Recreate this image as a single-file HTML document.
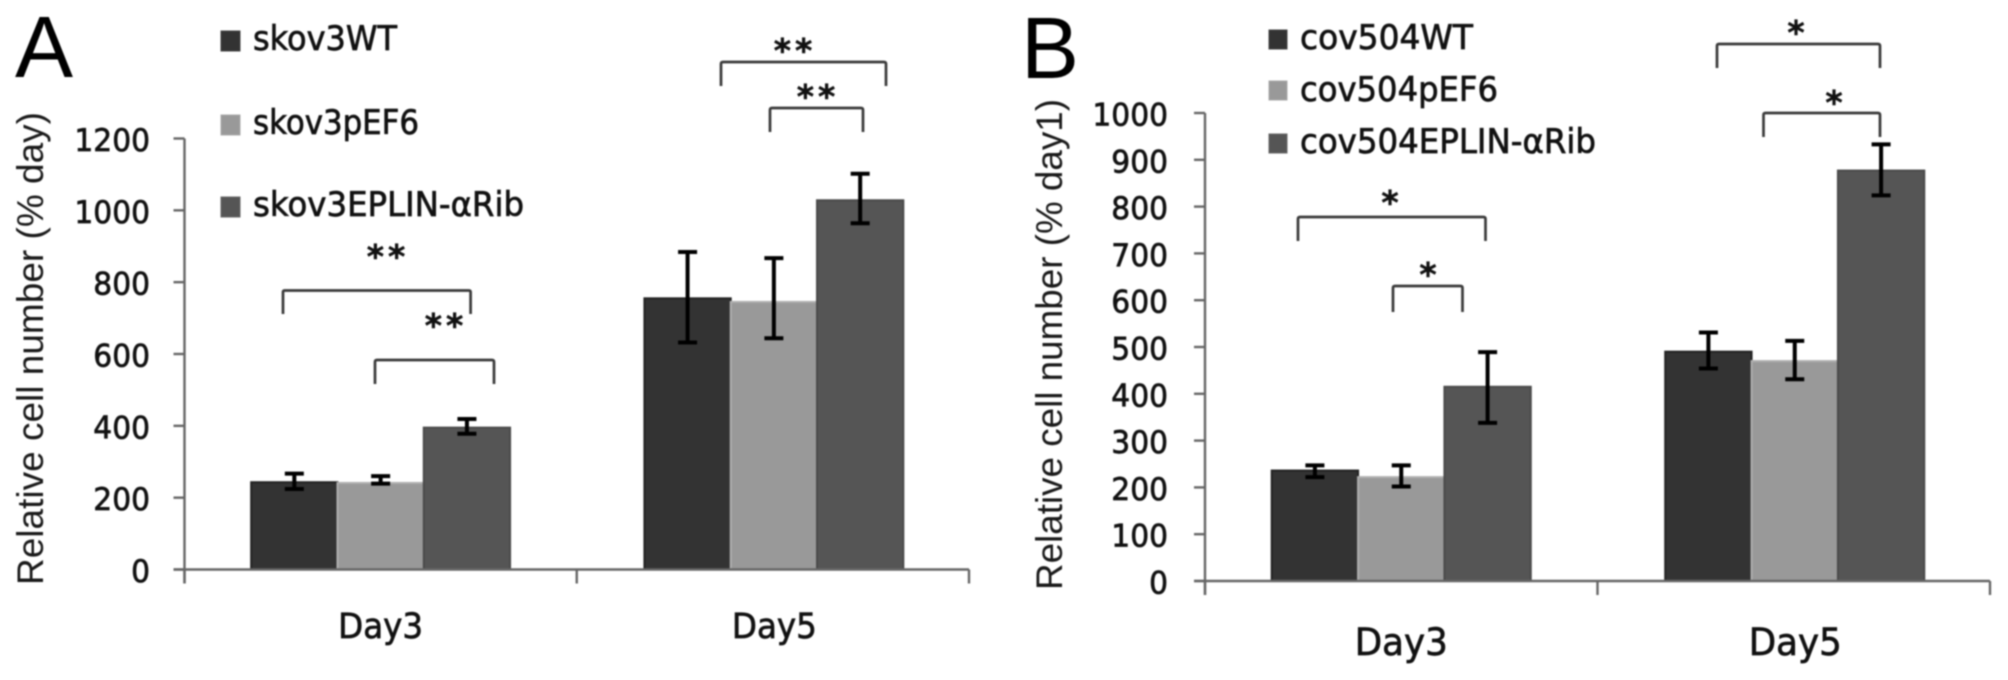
<!DOCTYPE html>
<html lang="en">
<head>
<meta charset="utf-8">
<title>Relative cell number charts</title>
<style>
  html, body { margin: 0; padding: 0; background: #fff; }
  body { width: 2008px; height: 680px; overflow: hidden; }
  svg { display: block; filter: blur(0.7px); }
  text { font-family: "DejaVu Sans", "Liberation Sans", sans-serif; fill: #111; stroke: #111; stroke-width: 0.7px; }
  .letter { font-family: "Liberation Sans", sans-serif; font-size: 87px; fill: #000; stroke: none; }
  .axis-title { font-family: "Liberation Sans", sans-serif; font-size: 37px; fill: #1a1a1a; stroke: none; }
  .star { font-family: "DejaVu Sans", sans-serif; font-size: 33px; font-weight: bold; fill: #111; letter-spacing: 4px; stroke: #111; stroke-width: 0.5px; }
  .star-one { letter-spacing: 0; }
  .bracket { fill: none; stroke: #3a3a3a; stroke-width: 2.7; stroke-linejoin: round; }
</style>
</head>
<body>
<svg id="chart" xmlns="http://www.w3.org/2000/svg" width="2008" height="680" viewBox="0 0 2008 680">
  <rect width="2008" height="680" fill="#fff"/>

  <text class="letter" x="15" y="77">A</text>
  <text class="letter" x="1021" y="78">B</text>

  <g>
    <rect x="221" y="31" width="19" height="20" fill="#333" stroke="#444" stroke-width="1"/>
    <text x="253" y="50" font-size="34" textLength="144" lengthAdjust="spacingAndGlyphs">skov3WT</text>
    <rect x="221" y="115" width="19" height="20" fill="#999" stroke="#aaa" stroke-width="1"/>
    <text x="253" y="134" font-size="34" textLength="166" lengthAdjust="spacingAndGlyphs">skov3pEF6</text>
    <rect x="221" y="197" width="19" height="20" fill="#555" stroke="#666" stroke-width="1"/>
    <text x="253" y="216" font-size="34" textLength="271" lengthAdjust="spacingAndGlyphs">skov3EPLIN-αRib</text>
  </g>

  <g>
    <rect x="1269" y="30" width="18" height="19" fill="#333" stroke="#444" stroke-width="1"/>
    <text x="1300" y="49" font-size="34" textLength="173" lengthAdjust="spacingAndGlyphs">cov504WT</text>
    <rect x="1269" y="81" width="18" height="19" fill="#999" stroke="#aaa" stroke-width="1"/>
    <text x="1300" y="101" font-size="34" textLength="198" lengthAdjust="spacingAndGlyphs">cov504pEF6</text>
    <rect x="1269" y="134" width="18" height="19" fill="#555" stroke="#666" stroke-width="1"/>
    <text x="1300" y="153" font-size="34" textLength="296" lengthAdjust="spacingAndGlyphs">cov504EPLIN-αRib</text>
  </g>

  <g>
    <path class="bracket" d="M283 314V292Q283 290.5 285 290.5H468.6Q470.6 290.5 470.6 292V314"/>
    <path class="bracket" d="M375 384V362Q375 360 377 360H492Q494 360 494 362V384"/>
    <path class="bracket" d="M721 86V64Q721 62 723 62H884Q886 62 886 64V86"/>
    <path class="bracket" d="M770 132V110Q770 108 772 108H861Q863 108 863 110V132"/>
    <text class="star" x="388" y="268" text-anchor="middle">**</text>
    <text class="star" x="446" y="337" text-anchor="middle">**</text>
    <text class="star" x="795" y="62" text-anchor="middle">**</text>
    <text class="star" x="818" y="108" text-anchor="middle">**</text>
  </g>

  <g>
    <path class="bracket" d="M1298 241V219Q1298 217 1300 217H1483.5Q1485.5 217 1485.5 219V241"/>
    <path class="bracket" d="M1393 312V288Q1393 286 1395 286H1460.5Q1462.5 286 1462.5 288V312"/>
    <path class="bracket" d="M1717 68V46Q1717 44 1719 44H1878Q1880 44 1880 46V68"/>
    <path class="bracket" d="M1763.5 137V115Q1763.5 113 1765.5 113H1878Q1880 113 1880 115V137"/>
    <text class="star star-one" x="1390" y="214" text-anchor="middle">*</text>
    <text class="star star-one" x="1428" y="286" text-anchor="middle">*</text>
    <text class="star star-one" x="1796" y="44" text-anchor="middle">*</text>
    <text class="star star-one" x="1834" y="114" text-anchor="middle">*</text>
  </g>
</svg>

<script>
const categories = ['Day3', 'Day5'];
const seriesFills = ['#333333', '#999999', '#555555'];
const seriesStrokes = ['#222222', '#b0b0b0', '#4a4a4a'];

const panelASeriesNames = ['skov3WT', 'skov3pEF6', 'skov3EPLIN-aRib'];
const panelAValues = [[243, 755], [241, 745], [395, 1028]];
const panelAErrHigh = [[267, 884], [260, 867], [419, 1102]];
const panelAErrLow = [[224, 632], [239, 644], [378, 964]];
const panelATicks = [0, 200, 400, 600, 800, 1000, 1200];

const panelBSeriesNames = ['cov504WT', 'cov504pEF6', 'cov504EPLIN-aRib'];
const panelBValues = [[236, 490], [222, 470], [415, 877]];
const panelBErrHigh = [[247, 531], [247, 513], [489, 933]];
const panelBErrLow = [[222, 454], [202, 431], [338, 824]];
const panelBTicks = [0, 100, 200, 300, 400, 500, 600, 700, 800, 900, 1000];

const svgNS = 'http://www.w3.org/2000/svg';
const root = document.getElementById('chart');

function make(tag, attrs, parent) {
  const el = document.createElementNS(svgNS, tag);
  for (const k in attrs) el.setAttribute(k, attrs[k]);
  parent.appendChild(el);
  return el;
}

function drawPanel(cfg) {
  const yScale = v => cfg.y0 + (cfg.yTop - cfg.y0) * (v / cfg.yMax);
  const band = (cfg.xEnd - cfg.xStart) / categories.length;
  const barW = band * cfg.barFrac;
  const xBar = (c, s) => cfg.xStart + band * c + band / 2 - (barW * cfg.names.length) / 2 + barW * s + (c ? 1 : 0);

  const g = make('g', {}, root);
  
  

  cfg.names.forEach((name, s) => {
    categories.forEach((cat, c) => {
      const bar = make('rect', {
        x: xBar(c, s), y: yScale(cfg.values[s][c]), width: barW,
        height: cfg.y0 - yScale(cfg.values[s][c]),
        fill: seriesFills[s], stroke: seriesStrokes[s], 'stroke-width': 2
      }, g);
      
      
    });
  });

  const axisColor = '#666';
  const yAxis = make('line', { x1: cfg.xStart, x2: cfg.xStart, y1: yScale(cfg.yMax), y2: cfg.y0 + 14, stroke: axisColor, 'stroke-width': 2.4 }, g);
  
  
  const xAxis = make('line', { x1: cfg.xStart - 11, x2: cfg.xEnd, y1: cfg.y0, y2: cfg.y0, stroke: axisColor, 'stroke-width': 2.4 }, g);
  
  

  cfg.ticks.forEach(t => {
    const tick = make('line', { x1: cfg.xStart - 11, x2: cfg.xStart, y1: yScale(t), y2: yScale(t), stroke: axisColor, 'stroke-width': 2.4 }, g);
    
    
    const labelText = String(t);
    const label = make('text', {
      x: cfg.labelRight, y: yScale(t) + 12.5, 'text-anchor': 'end', 'font-size': 31.5,
      textLength: labelText.length * 18.9, lengthAdjust: 'spacingAndGlyphs'
    }, g);
    label.textContent = labelText;
    
    
  });

  for (let c = 0; c <= categories.length; c++) {
    const xt = cfg.xStart + band * c;
    const tick = make('line', { x1: xt, x2: xt, y1: cfg.y0, y2: cfg.y0 + 14, stroke: axisColor, 'stroke-width': 2.4 }, g);
    
    
  }

  categories.forEach((cat, c) => {
    const label = make('text', {
      x: cfg.xStart + band * c + band / 2 + (c ? 1.5 : 0), y: cfg.catY, 'text-anchor': 'middle',
      'font-size': cfg.catSize, textLength: cfg.catLen, lengthAdjust: 'spacingAndGlyphs'
    }, g);
    label.textContent = cat;
    
    
  });

  cfg.names.forEach((name, s) => {
    categories.forEach((cat, c) => {
      const xm = xBar(c, s) + barW / 2;
      const hi = yScale(cfg.errHigh[s][c]);
      const lo = yScale(cfg.errLow[s][c]);
      const err = make('path', {
        d: 'M' + (xm - 9.5) + ' ' + hi + 'H' + (xm + 9.5) + 'M' + xm + ' ' + hi + 'V' + lo + 'M' + (xm - 9.5) + ' ' + lo + 'H' + (xm + 9.5),
        fill: 'none', stroke: '#000', 'stroke-width': 4
      }, g);
      
      
    });
  });

  const title = make('text', {
    class: 'axis-title',
    transform: 'translate(' + cfg.titleX + ' ' + cfg.titleY + ') rotate(-90)',
    textLength: cfg.titleLen, lengthAdjust: 'spacingAndGlyphs'
  }, g);
  title.textContent = cfg.title;
  
  
}

drawPanel({
  id: 'panel-a', names: panelASeriesNames, values: panelAValues,
  errHigh: panelAErrHigh, errLow: panelAErrLow, ticks: panelATicks,
  yMax: 1200, y0: 569.5, yTop: 138.5, xStart: 184.5, xEnd: 969, barFrac: 0.22,
  labelRight: 150, catY: 638, catSize: 35, catLen: 85,
  title: 'Relative cell number (% day)', titleX: 43, titleY: 585, titleLen: 473
});

drawPanel({
  id: 'panel-b', names: panelBSeriesNames, values: panelBValues,
  errHigh: panelBErrHigh, errLow: panelBErrLow, ticks: panelBTicks,
  yMax: 1000, y0: 581, yTop: 113, xStart: 1205, xEnd: 1990, barFrac: 0.22,
  labelRight: 1168, catY: 655, catSize: 37, catLen: 93,
  title: 'Relative cell number (% day1)', titleX: 1062, titleY: 590, titleLen: 491
});
</script>
</body>
</html>
